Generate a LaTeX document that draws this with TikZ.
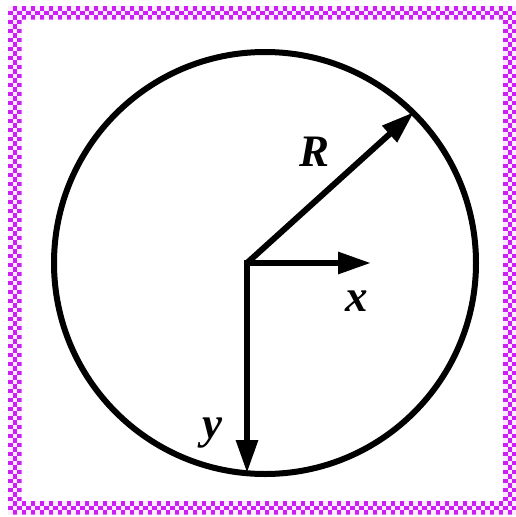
\documentclass[tikz,border=0pt]{standalone}
\usepackage{fontspec}
\setmainfont{Liberation Serif}
\usetikzlibrary{arrows.meta}
\definecolor{frame}{RGB}{205,30,245}
\tikzset{
  axis/.style={line width=6pt, -{Triangle[length=33pt,width=21pt]}},
  lbl/.style={font=\fontsize{45pt}{50pt}\selectfont\bfseries\itshape, inner sep=0pt},
  cell/.style={fill=white!92!frame}
}
\begin{document}
\begin{tikzpicture}[x=1pt,y=-1pt]
\useasboundingbox (0,0) rectangle (515,517);
% frame: checkered band
\def\s{4.5}
\def\xa{8}\def\ya{6}\def\xb{516.5}\def\yb{514.5}
\fill[frame, even odd rule] (\xa,\ya) rectangle (\xb,\yb)
  (\xa+3*\s,\ya+3*\s) rectangle (\xb-3*\s,\yb-3*\s);
\foreach \i in {0,...,112} {
  \foreach \j in {0,1,2} {
    \pgfmathtruncatemacro\p{mod(\i+\j,2)}
    \ifnum\p=0
      \fill[cell] (\xa+\i*\s,\ya+\j*\s) rectangle ++(\s,\s);
      \fill[cell] (\xa+\i*\s,\yb-\j*\s-\s) rectangle ++(\s,\s);
      \fill[cell] (\xa+\j*\s,\ya+\i*\s) rectangle ++(\s,\s);
      \fill[cell] (\xb-\j*\s-\s,\ya+\i*\s) rectangle ++(\s,\s);
    \fi
  }
}
% circle
\node[circle, draw, line width=6pt, minimum size=422pt, inner sep=0pt] (C) at (265,263) {};
\coordinate (O) at (247,263);
\coordinate (Rt) at (414,112);
\coordinate (Xt) at (371,263);
\coordinate (Yt) at (247,473);
\draw[axis] (O) -- (Rt);
\draw[axis] (O) -- (Xt);
\draw[axis] (O) -- (Yt);
\fill (244,260) rectangle (250,266);
\node[lbl] (R) at (315,152) {R};
\node[lbl] (x) at (357,301) {x};
\node[lbl] (y) at (212,433) {y};
\end{tikzpicture}
\end{document}
